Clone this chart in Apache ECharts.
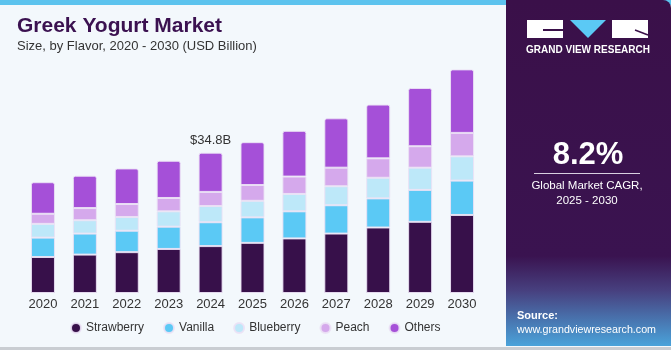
<!DOCTYPE html>
<html>
<head>
<meta charset="utf-8">
<script src="https://cdn.jsdelivr.net/npm/echarts@6/dist/echarts.min.js"></script>
<style>
  html, body { margin: 0; padding: 0; background: #f3f8fc; }
  #chart { width: 671px; height: 350px; }
</style>
</head>
<body>
<div id="chart"></div>
<script>
// 年份
const years = ['2020', '2021', '2022', '2023', '2024', '2025', '2026', '2027', '2028', '2029', '2030'];
// 各口味数值 (USD Billion)
const strawberry = [8.9, 9.5, 10.1, 10.9, 11.6, 12.4, 13.5, 14.7, 16.2, 17.6, 19.3];
const vanilla    = [4.8, 5.2, 5.3, 5.5, 5.9, 6.3, 6.7, 7.0, 7.2, 7.9, 8.5];
const blueberry  = [3.4, 3.3, 3.4, 3.8, 4.0, 4.1, 4.3, 4.7, 5.1, 5.5, 6.0];
const peach      = [2.5, 3.0, 3.2, 3.3, 3.5, 3.9, 4.3, 4.6, 4.8, 5.3, 5.8];
const others     = [7.8, 8.0, 8.8, 9.2, 9.7, 10.6, 11.3, 12.2, 13.3, 14.4, 15.7];
const labelYear = '2024';
const labelText = '$34.8B';

const seriesDefs = [
      { name: 'Strawberry', data: strawberry, color: '#37104a' },
      { name: 'Vanilla',    data: vanilla,    color: '#5bc9f5' },
      { name: 'Blueberry',  data: blueberry,  color: '#bde8f9' },
      { name: 'Peach',      data: peach,      color: '#d5a9ec' },
      { name: 'Others',     data: others,     color: '#a550d8' }
];

const chart = echarts.init(document.getElementById('chart'));

const series = seriesDefs.map((s, i) => {
      const last = i === seriesDefs.length - 1;
      return {
            name: s.name,
            type: 'bar',
            stack: 'total',
            barWidth: 24,
            itemStyle: {
                  color: s.color,
                  borderColor: 'rgba(235,225,245,0.9)',
                  borderWidth: 1,
                  borderRadius: last ? [2, 2, 0, 0] : 0
            },
            emphasis: { disabled: true },
            data: s.data.map((v, j) => {
                  if (last && years[j] === labelYear) {
                        return {
                              value: v,
                              label: {
                                    show: true, position: 'top', distance: 6,
                                    formatter: labelText,
                                    color: '#333', fontSize: 13, fontFamily: 'Liberation Sans'
                              }
                        };
                  }
                  return v;
            })
      };
});

// 右侧面板与标题等装饰
const graphic = [
      { type: 'rect', shape: { x: 0, y: 0, width: 671, height: 5 }, style: { fill: '#5cc3ee' }, z: 10 },
      { type: 'rect', shape: { x: 0, y: 347, width: 671, height: 3 }, style: { fill: '#c9cdd2' }, z: 10 },
      {
            type: 'rect', shape: { x: 506, y: 0, width: 165, height: 346, r: [0, 8, 0, 0] },
            style: {
                  fill: new echarts.graphic.LinearGradient(0, 0, 0, 1, [
                        { offset: 0, color: '#3a1049' },
                        { offset: 0.74, color: '#3a1350' },
                        { offset: 0.84, color: '#47407f' },
                        { offset: 1, color: '#4aa3da' }
                  ])
            },
            z: 11
      },
      { type: 'text', left: 17, top: 16, style: { text: 'Greek Yogurt Market', fill: '#3b1150', font: 'bold 21px "Liberation Sans"' }, z: 12 },
      { type: 'text', left: 17, top: 40, style: { text: 'Size, by Flavor, 2020 - 2030 (USD Billion)', fill: '#333', font: '13px "Liberation Sans"' }, z: 12 },
      // logo
      { type: 'rect', shape: { x: 527, y: 20, width: 36, height: 18 }, style: { fill: '#fff' }, z: 12 },
      { type: 'rect', shape: { x: 543, y: 29, width: 20, height: 2 }, style: { fill: '#3a1049' }, z: 13 },
      { type: 'polygon', shape: { points: [[570, 20], [606, 20], [588, 38]] }, style: { fill: '#5bc9f5' }, z: 12 },
      { type: 'rect', shape: { x: 612, y: 20, width: 36, height: 18 }, style: { fill: '#fff' }, z: 12 },
      { type: 'polyline', shape: { points: [[635, 30], [648, 35]] }, style: { stroke: '#3a1049', lineWidth: 1.5 }, z: 13 },
      { type: 'text', x: 588, y: 50, style: { text: 'GRAND VIEW RESEARCH', fill: '#fff', font: 'bold 10px "Liberation Sans"', align: 'center', verticalAlign: 'middle' }, z: 12 },
      { type: 'text', x: 588, y: 155, style: { text: '8.2%', fill: '#fff', font: 'bold 31px "Liberation Sans"', align: 'center', verticalAlign: 'middle' }, z: 12 },
      { type: 'rect', shape: { x: 534, y: 173, width: 106, height: 1 }, style: { fill: '#d8d0e0' }, z: 12 },
      { type: 'text', x: 587, y: 186, style: { text: 'Global Market CAGR,', fill: '#fff', font: '11.5px "Liberation Sans"', align: 'center', verticalAlign: 'middle' }, z: 12 },
      { type: 'text', x: 587, y: 201, style: { text: '2025 - 2030', fill: '#fff', font: '11.5px "Liberation Sans"', align: 'center', verticalAlign: 'middle' }, z: 12 },
      { type: 'text', x: 517, y: 316, style: { text: 'Source:', fill: '#fff', font: 'bold 11px "Liberation Sans"', verticalAlign: 'middle' }, z: 12 },
      { type: 'text', x: 517, y: 330, style: { text: 'www.grandviewresearch.com', fill: '#fff', font: '10.7px "Liberation Sans"', verticalAlign: 'middle' }, z: 12 }
];

chart.setOption({
      backgroundColor: '#f3f8fc',
      animation: false,
      color: seriesDefs.map(s => s.color),
      grid: { left: 22, right: 188, top: 50.4, bottom: 57, containLabel: false },
      legend: {
            left: 65, bottom: 11,
            icon: 'circle', itemWidth: 10, itemHeight: 10, itemGap: 19,
            textStyle: { color: '#333', fontSize: 12, fontFamily: 'Liberation Sans' },
            data: seriesDefs.map(s => s.name)
      },
      xAxis: {
            type: 'category',
            data: years,
            axisLine: { show: false },
            axisTick: { show: false },
            axisLabel: { color: '#333', fontSize: 13, fontFamily: 'Liberation Sans', margin: 5 }
      },
      yAxis: {
            type: 'value', min: 0, max: 60,
            show: false,
            splitLine: { show: false }
      },
      graphic: graphic,
      series: series
});
</script>
</body>
</html>
